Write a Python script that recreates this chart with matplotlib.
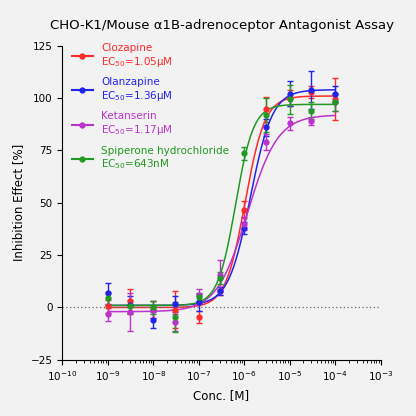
import numpy as np
import matplotlib
matplotlib.use("Agg")
import matplotlib.pyplot as plt

conc = [1e-9, 3e-9, 1e-8, 3e-8, 1e-7, 3e-7, 1e-6, 3e-6, 1e-5, 3e-5, 1e-4]
names = ["Clozapine", "Olanzapine", "Ketanserin", "Spiperone hydrochloride"]
ec50_labels = ["1.05μM", "1.36μM", "1.17μM", "643nM"]
colors = ["#ff2a2a", "#2222ee", "#bb33cc", "#229922"]
clozapine = [0.6, 3, -1, -1, -4.6, 8, 46.7, 94.6, 100, 103, 99.4]
clozapine_err = [3, 6, 4, 9, 3, 2, 4, 6, 4, 3, 10]
olanzapine = [6.7, 1.4, -6, 1.7, 2.5, 7.8, 38, 86, 102, 104, 102]
olanzapine_err = [5, 4, 4, 4, 4, 2, 3, 4, 6, 9, 4]
ketanserin = [-3.3, -2.2, -1, -7, 6, 15.7, 40, 79, 88, 89, 98]
ketanserin_err = [3, 9, 4, 4, 3, 7, 3, 4, 3, 2, 4]
spiperone = [4.3, 0.6, 0, -4.6, 5, 14, 73.6, 92, 99.4, 94, 98]
spiperone_err = [3, 3, 3, 7, 2, 3, 3, 8, 7, 4, 4]
values = [clozapine, olanzapine, ketanserin, spiperone]
errs = [clozapine_err, olanzapine_err, ketanserin_err, spiperone_err]
# fitted 4PL parameters: bottom, top, EC50, hill
params = [(0, 101, 1.05e-6, 2.0), (1, 104, 1.36e-6, 1.8),
          (-2, 92, 1.17e-6, 1.3), (1, 97, 6.43e-7, 2.2)]

bg = "#f2f2f2"
fig = plt.figure(figsize=(4.16, 4.16), dpi=100, facecolor=bg)
ax = fig.add_axes([0.15, 0.135, 0.765, 0.755], facecolor=bg)
xs = np.logspace(-9, -4, 300)
for n, lab, c, v, e, (b, t, ec, h) in zip(names, ec50_labels, colors, values, errs, params):
    ax.errorbar(conc, v, yerr=e, fmt='o', color=c, ms=3.5, capsize=2, elinewidth=1, capthick=1)
    y = b + (t - b) / (1 + (ec / xs) ** h)
    ax.plot(xs, y, color=c, lw=1.1)
    ax.plot([], [], '-o', color=c, ms=3.5, lw=1.5, label=f"{n}\nEC$_{{50}}$={lab}")
ax.axhline(0, color="#666666", ls=(0, (1, 2)), lw=0.9)
ax.set_xscale('log')
ax.set_xlim(1e-10, 1e-3)
ax.set_ylim(-25, 125)
ax.set_yticks([-25, 0, 25, 50, 75, 100, 125])
ax.set_xticks([10.0 ** k for k in range(-10, -2)])
for s in ['top', 'right']:
    ax.spines[s].set_visible(False)
ax.tick_params(labelsize=7.5)
ax.set_xlabel("Conc. [M]", fontsize=8.5)
ax.set_ylabel("Inhibition Effect [%]", fontsize=8.5)
ax.set_title("CHO-K1/Mouse α1B-adrenoceptor Antagonist Assay", fontsize=9.5, pad=12)
leg = ax.legend(loc='upper left', frameon=False, fontsize=7.5, handlelength=2,
                labelspacing=0.8, bbox_to_anchor=(0.0, 1.04))
for txt, c in zip(leg.get_texts(), colors):
    txt.set_color(c)
fig.savefig("out.png", dpi=100, facecolor=bg)
